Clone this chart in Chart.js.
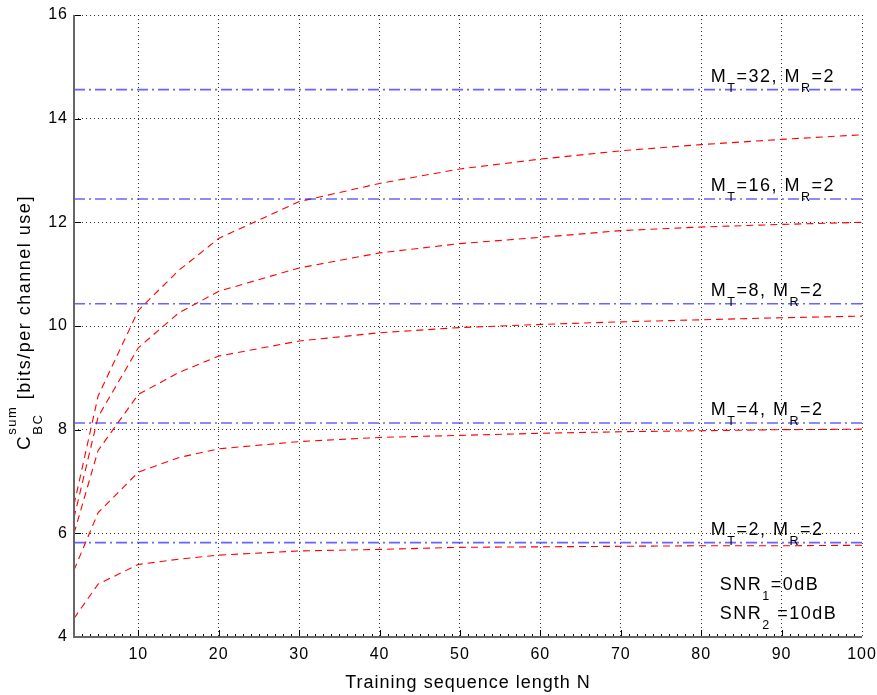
<!DOCTYPE html>
<html>
<head>
<meta charset="utf-8">
<script src="https://cdn.jsdelivr.net/npm/chart.js@4.4.0/dist/chart.umd.min.js"></script>
<style>
  html, body { margin: 0; padding: 0; background: #fff; }
  #wrap { width: 877px; height: 695px; }
</style>
</head>
<body>
<div id="wrap"><canvas id="myChart" width="877" height="695"></canvas></div>
<script>
// training sequence length
const trainingN = [2, 5, 10, 15, 20, 30, 40, 50, 60, 70, 80, 90, 100];
const antennasT = [2, 4, 8, 16, 32];
const antennasR = 2;

// sum capacity with channel estimation (red dashed)
const capMt2  = [4.36, 5.02, 5.40, 5.50, 5.58, 5.66, 5.69, 5.73, 5.74, 5.75, 5.76, 5.76, 5.77];
const capMt4  = [5.29, 6.40, 7.18, 7.46, 7.63, 7.77, 7.85, 7.89, 7.93, 7.96, 7.98, 8.00, 8.01];
const capMt8  = [6.00, 7.60, 8.68, 9.10, 9.42, 9.71, 9.87, 9.97, 10.03, 10.08, 10.12, 10.16, 10.19];
const capMt16 = [6.30, 8.25, 9.58, 10.25, 10.67, 11.12, 11.41, 11.59, 11.71, 11.84, 11.91, 11.96, 12.00];
const capMt32 = [6.55, 8.65, 10.30, 11.07, 11.69, 12.40, 12.75, 13.03, 13.22, 13.38, 13.50, 13.60, 13.69];

// perfect CSI capacity (blue dash-dot), one per M_T
const perfectCsi = [5.82, 8.13, 10.43, 12.45, 14.56];

const xTicks = [10, 20, 30, 40, 50, 60, 70, 80, 90, 100];
const yTicks = [4, 6, 8, 10, 12, 14, 16];

const FONT = "'Liberation Sans', Arial, Helvetica, sans-serif";
const curves = [capMt2, capMt4, capMt8, capMt16, capMt32];

const datasets = [];
perfectCsi.forEach(v => {
    datasets.push({
        data: [{x: trainingN[0], y: v}, {x: trainingN[trainingN.length - 1], y: v}],
        borderColor: 'rgba(50, 50, 255, 0.75)',
        borderWidth: 1.6,
        borderDash: [11, 4, 2, 4],
    });
});
curves.forEach(c => {
    datasets.push({
        data: trainingN.map((n, i) => ({x: n, y: c[i]})),
        borderColor: 'rgb(255, 0, 0)',
        borderWidth: 1.1,
        borderDash: [7, 5],
    });
});

// draws text with sub (+1) / sup (-1) pieces
function richText(ctx, parts, x, y, big, small) {
    let cx = x;
    parts.forEach(p => {
        const lvl = p[1] || 0;
        ctx.font = (lvl ? small : big) + 'px ' + FONT;
        const dy = lvl === 1 ? 10 : (lvl === -1 ? -9 : 0);
        ctx.fillText(p[0], cx, y + dy);
        cx += ctx.measureText(p[0]).width;
    });
}

const decorations = {
    id: 'decorations',
    beforeDraw(chart) {
        chart.ctx.letterSpacing = '1px';
    },
    afterDatasetsDraw(chart) {
        const {ctx, chartArea: a, scales: {x, y}} = chart;
        ctx.save();
        // ticks pointing inward
        ctx.strokeStyle = '#000';
        ctx.lineWidth = 1;
        ctx.beginPath();
        yTicks.forEach(v => {
            const py = Math.round(y.getPixelForValue(v)) + 0.5;
            ctx.moveTo(a.left, py); ctx.lineTo(a.left + 7, py);
        });
        for (let n = 3; n < 100; n++) {
            const px = Math.round(x.getPixelForValue(n)) + 0.5;
            const len = n % 10 === 0 ? 7 : 3;
            ctx.moveTo(px, a.bottom); ctx.lineTo(px, a.bottom - len);
        }
        ctx.stroke();
        // axes lines
        ctx.strokeStyle = '#666';
        ctx.lineWidth = 2;
        ctx.beginPath();
        ctx.moveTo(a.left, a.top); ctx.lineTo(a.left, a.bottom);
        ctx.moveTo(a.left - 1, a.bottom); ctx.lineTo(a.right, a.bottom);
        ctx.stroke();

        // curve labels
        ctx.fillStyle = '#000';
        ctx.textBaseline = 'alphabetic';
        ctx.textAlign = 'left';
        ctx.letterSpacing = '1.5px';
        const lx = x.getPixelForValue(81.2);
        perfectCsi.forEach((v, i) => {
            const py = y.getPixelForValue(v) - 8;
            richText(ctx, [['M'], ['T', 1], ['=' + antennasT[i] + ', '], ['M'], ['R', 1], ['=' + antennasR]],
                lx, py, 18, 12.5);
        });
        const sx = x.getPixelForValue(82.3);
        richText(ctx, [['SNR'], ['1', 1], ['=0dB']], sx, y.getPixelForValue(4.91), 18, 12.5);
        richText(ctx, [['SNR'], ['2', 1], [' =10dB']], sx, y.getPixelForValue(4.35), 18, 12.5);

        // y axis title, rotated
        ctx.translate(30, 450);
        ctx.rotate(-Math.PI / 2);
        ctx.font = '19px ' + FONT;
        ctx.fillText('C', 0, 0);
        let cx = ctx.measureText('C').width;
        ctx.font = '13px ' + FONT;
        ctx.fillText('sum', cx, -14);
        const w1 = ctx.measureText('sum').width;
        ctx.fillText('BC', cx, 12);
        const w2 = ctx.measureText('BC').width;
        cx += Math.max(w1, w2);
        ctx.font = '18px ' + FONT;
        ctx.fillText(' [bits/per channel use]', cx, 0);
        ctx.restore();
    }
};

const config = {
    type: 'line',
    data: {datasets: datasets},
    options: {
        responsive: false,
        animation: false,
        events: [],
        layout: {padding: {top: 15, right: 15, left: 0, bottom: 0}},
        elements: {point: {radius: 0}, line: {tension: 0}},
        plugins: {legend: {display: false}, tooltip: {enabled: false}},
        scales: {
            x: {
                type: 'linear',
                min: 2,
                max: 100,
                afterBuildTicks: s => { s.ticks = xTicks.map(v => ({value: v})); },
                afterFit: s => { s.height = 58; s.paddingLeft = 0; s.paddingRight = 0; },
                grid: {color: 'rgba(0,0,0,0.8)', lineWidth: 1, drawTicks: false},
                border: {display: false, dash: [1, 3]},
                ticks: {color: '#000', font: {family: FONT, size: 16}, padding: 8, maxRotation: 0, autoSkip: false},
                title: {display: true, text: 'Training sequence length N', color: '#000',
                        font: {family: FONT, size: 18}, padding: {top: 0, bottom: 1}}
            },
            y: {
                type: 'linear',
                min: 4,
                max: 16,
                afterBuildTicks: s => { s.ticks = yTicks.map(v => ({value: v})); },
                afterFit: s => { s.width = 74; s.paddingTop = 0; s.paddingBottom = 0; },
                grid: {color: 'rgba(0,0,0,0.8)', lineWidth: 1, drawTicks: false},
                border: {display: false, dash: [1, 3]},
                ticks: {color: '#000', font: {family: FONT, size: 16}, padding: 6}
            }
        }
    },
    plugins: [decorations]
};

const myChart = new Chart(document.getElementById('myChart'), config);
</script>
</body>
</html>
